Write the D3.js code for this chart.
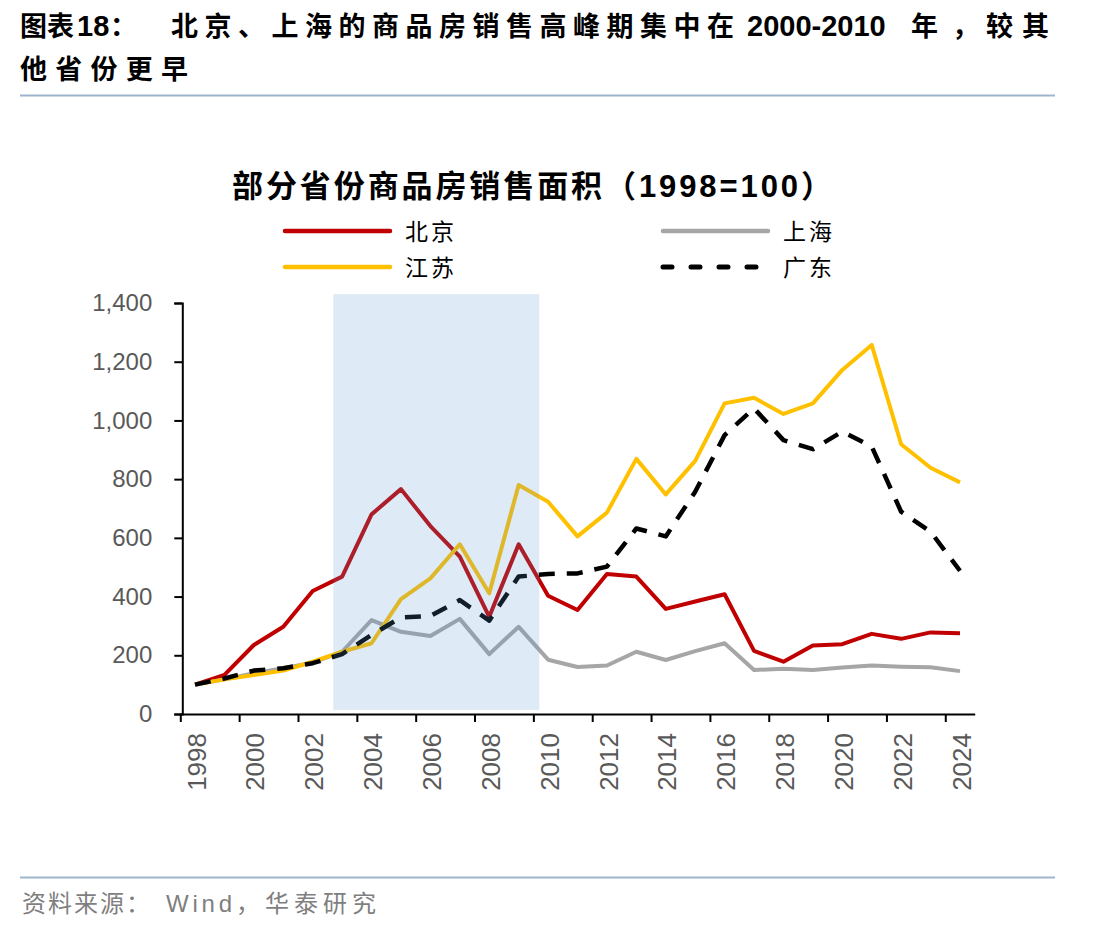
<!DOCTYPE html>
<html>
<head>
<meta charset="utf-8">
<script src="https://cdn.jsdelivr.net/npm/d3@7"></script>
<style>
  html, body { margin: 0; padding: 0; background: #fff; }
  svg { display: block; }
</style>
</head>
<body>
<svg id="chart" width="1112" height="932"></svg>
<script>
// ---- data ----
const years = d3.range(1998, 2025);
const seriesNames = ["北京", "上海", "江苏", "广东"];
const beijing   = [100,133,235,297,419,468,680,766,640,536,331,578,403,354,477,468,358,383,408,215,178,233,238,273,256,278,275];
const shanghai  = [100,118,139,156,175,212,320,280,266,324,204,297,185,160,165,212,184,214,241,150,154,150,158,165,161,159,146];
const jiangsu   = [100,118,133,148,178,212,241,391,462,578,411,780,723,605,686,869,748,862,1058,1077,1022,1058,1172,1257,919,839,789];
const guangdong = [100,121,148,156,173,204,269,329,334,388,318,468,477,479,502,632,605,757,950,1041,933,902,962,911,689,621,488];
const yTicks = [0, 200, 400, 600, 800, 1000, 1200, 1400];
const xLabelYears = d3.range(1998, 2025, 2);
const shadeYears = [2002.7, 2009.7];
const shadeValues = [14, 1430];
const chartTitle = "部分省份商品房销售面积（1998=100）";

// ---- layout ----
const svg = d3.select("#chart");
const CJK = "'Noto Sans CJK SC',sans-serif";
const LAT = "'Liberation Sans',Arial,sans-serif";
const plot = { left: 180.3, right: 974.7, top: 303, bottom: 714 };

const x = d3.scaleLinear().domain([1997.5, 2024.5]).range([plot.left, plot.right]);
const y = d3.scaleLinear().domain([0, 1400]).range([plot.bottom, plot.top]);

// header, line 1 built from segments
const titleSegs = [
  { t: "图表", x: 20, f: CJK, s: 27 },
  { t: "18", x: 77, f: LAT, s: 29 },
  { t: "：", x: 110, f: CJK, s: 27 },
  { t: "北京、上海的商品房销售高峰期集中在", x: 171, f: CJK, s: 27, len: 563 },
  { t: "2000-2010", x: 747, f: LAT, s: 29 },
  { t: "年，", x: 911, f: CJK, s: 27, len: 68 },
  { t: "较其", x: 986, f: CJK, s: 27, len: 63 }
];
titleSegs.forEach(s => {
  const t = svg.append("text").attr("x", s.x).attr("y", 36)
    .attr("font-weight", "bold").attr("fill", "#000")
    .attr("font-family", s.f).attr("font-size", s.s).text(s.t);
  if (s.len) t.attr("textLength", s.len).attr("lengthAdjust", "spacing");
});
svg.append("text").attr("x", 20).attr("y", 79)
  .attr("font-family", CJK).attr("font-weight", "bold").attr("font-size", 27)
  .attr("textLength", 168).attr("lengthAdjust", "spacing")
  .attr("fill", "#000").text("他省份更早");
svg.append("line").attr("x1", 20).attr("x2", 1055).attr("y1", 95.5).attr("y2", 95.5)
  .attr("stroke", "#9fb5cf").attr("stroke-width", 2);

// chart title
svg.append("text").attr("x", 232).attr("y", 197)
  .attr("font-family", "'Liberation Sans','Noto Sans CJK SC',sans-serif")
  .attr("font-weight", "bold").attr("font-size", 31)
  .attr("textLength", 600).attr("lengthAdjust", "spacing")
  .attr("fill", "#000").text(chartTitle);

// legend
const colors = { "北京": "#c00000", "上海": "#a6a6a6", "江苏": "#ffc000", "广东": "#000000" };
const legendPos = [
  { name: "北京", x: 285, y: 231 },
  { name: "上海", x: 663, y: 231 },
  { name: "江苏", x: 285, y: 267 },
  { name: "广东", x: 663, y: 267 }
];
legendPos.forEach(d => {
  const ln = svg.append("line").attr("x1", d.x).attr("x2", d.x + 105)
    .attr("y1", d.y).attr("y2", d.y)
    .attr("stroke", colors[d.name]).attr("stroke-width", 4.5).attr("stroke-linecap", "round");
  if (d.name === "广东") ln.attr("stroke-dasharray", "9,19").attr("stroke-width", 5);
  svg.append("text").attr("x", d.x + 120).attr("y", d.y + 9)
    .attr("font-family", CJK).attr("font-size", 23).attr("letter-spacing", 3)
    .attr("fill", "#000").text(d.name);
});

// axes
const yAxis = svg.append("g").attr("transform", `translate(${plot.left + 2},0)`)
  .call(d3.axisLeft(y).tickValues(yTicks).tickSize(8).tickPadding(22).tickFormat(d3.format(",")));
yAxis.select(".domain").attr("stroke", "#000").attr("stroke-width", 2);
yAxis.selectAll(".tick line").attr("stroke", "#000").attr("stroke-width", 2);
yAxis.selectAll("text").attr("font-family", LAT)
  .attr("font-size", 24).attr("fill", "#595959");

const xTickVals = d3.range(1997.5, 2024, 2);
const xAxis = svg.append("g").attr("transform", `translate(0,${plot.bottom})`)
  .call(d3.axisBottom(x).tickValues(xTickVals).tickSize(8).tickSizeOuter(0).tickFormat(""));
xAxis.select(".domain").attr("stroke", "#000").attr("stroke-width", 2);
xAxis.selectAll(".tick line").attr("stroke", "#000").attr("stroke-width", 2);

const xLab = svg.append("g").attr("transform", `translate(0,${plot.bottom})`)
  .call(d3.axisBottom(x).tickValues(xLabelYears).tickSize(0).tickFormat(d => String(d)));
xLab.select(".domain").remove();
xLab.selectAll("text")
  .attr("transform", "rotate(-90)")
  .attr("x", -19).attr("y", 1).attr("dy", "0.35em")
  .attr("text-anchor", "end")
  .attr("font-family", LAT)
  .attr("font-size", 26).attr("fill", "#595959");

// lines
const dataMap = { "北京": beijing, "上海": shanghai, "江苏": jiangsu, "广东": guangdong };
const lineGen = d3.line().x((d, i) => x(years[i])).y(d => y(d));
seriesNames.forEach(name => {
  const p = svg.append("path").datum(dataMap[name])
    .attr("d", lineGen).attr("fill", "none")
    .attr("stroke", colors[name]).attr("stroke-width", 4)
    .attr("stroke-linejoin", "round");
  if (name === "广东") p.attr("stroke-dasharray", "16,12").attr("stroke-width", 4.5);
});

// shaded period (semi-transparent overlay drawn on top)
svg.append("rect")
  .attr("x", x(shadeYears[0])).attr("width", x(shadeYears[1]) - x(shadeYears[0]))
  .attr("y", y(shadeValues[1])).attr("height", y(shadeValues[0]) - y(shadeValues[1]))
  .attr("fill", "rgb(90,150,210)").attr("fill-opacity", 0.2);

// footer
svg.append("line").attr("x1", 20).attr("x2", 1055).attr("y1", 877.5).attr("y2", 877.5)
  .attr("stroke", "#9fb5cf").attr("stroke-width", 2);
[
  { t: "资料来源：", x: 22, f: CJK, len: 128 },
  { t: "Wind", x: 166, f: LAT, len: 66 },
  { t: "，华泰研究", x: 236, f: CJK, len: 140 }
].forEach(s => {
  svg.append("text").attr("x", s.x).attr("y", 912).attr("fill", "#7f7f7f").attr("font-size", 24)
    .attr("font-family", s.f).attr("textLength", s.len).attr("lengthAdjust", "spacing").text(s.t);
});
</script>
</body>
</html>
